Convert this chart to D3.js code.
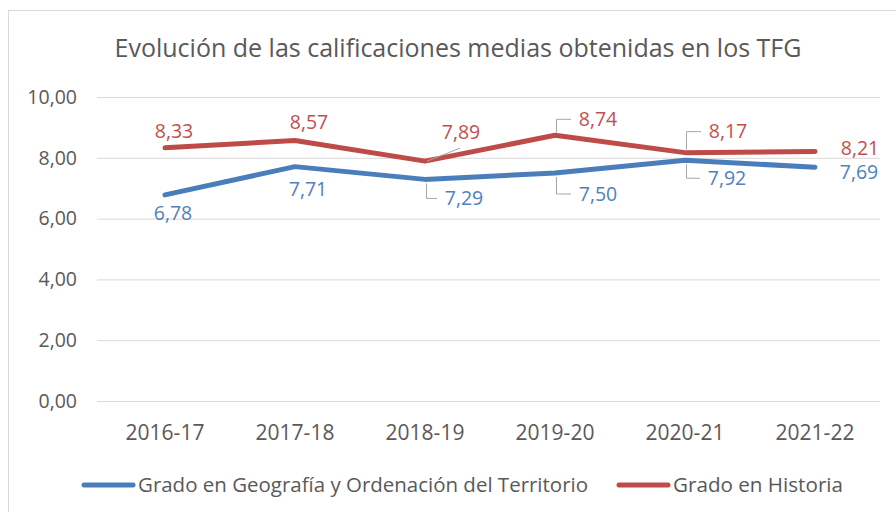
<!doctype html>
<html>
<head>
<meta charset="utf-8">
<script src="https://d3js.org/d3.v7.min.js"></script>
<style>
  body { margin: 0; background: #fff; }
  text { font-family: 'Open Sans', 'Noto Sans', sans-serif; }
</style>
</head>
<body>
<div id="chart"></div>
<script>
const years = ['2016-17', '2017-18', '2018-19', '2019-20', '2020-21', '2021-22'];
const geografia = [6.78, 7.71, 7.29, 7.50, 7.92, 7.69];
const historia = [8.33, 8.57, 7.89, 8.74, 8.17, 8.21];
const yTicks = [0, 2, 4, 6, 8, 10];
const seriesNames = ['Grado en Geografía y Ordenación del Territorio', 'Grado en Historia'];

// label placement relative to the point: dx, dy, leader type
const redLabels = [
  {dx: 9, dy: -17}, {dx: 14, dy: -18}, {dx: 36, dy: -29, lead: 'slash'},
  {dx: 43, dy: -16, lead: 'up'}, {dx: 43, dy: -21, lead: 'up'}, {dx: 45, dy: -3}
];
const blueLabels = [
  {dx: 8, dy: 18}, {dx: 13, dy: 23}, {dx: 39, dy: 19, lead: 'down'},
  {dx: 43, dy: 21, lead: 'down'}, {dx: 42, dy: 18, lead: 'down'}, {dx: 44, dy: 5}
];

const W = 896, H = 512;
const plotLeft = 100, plotRight = 880, plotTop = 97, plotBottom = 401;
const fmt = v => d3.format('.2f')(v).replace('.', ',');

const svg = d3.select('#chart').append('svg')
  .attr('width', W).attr('height', H);

svg.append('rect')
  .attr('x', 8.5).attr('y', 10.5)
  .attr('width', 900).attr('height', 520)
  .attr('fill', '#fff').attr('stroke', '#d9d9d9');

svg.append('text')
  .attr('x', 458).attr('y', 57)
  .attr('text-anchor', 'middle')
  .attr('font-size', 25)
  .attr('fill', '#595959')
  .text('Evolución de las calificaciones medias obtenidas en los TFG');

const x = d3.scaleBand().domain(years).range([plotLeft, plotRight]);
const y = d3.scaleLinear().domain([0, 10]).range([plotBottom, plotTop]);
const cx = d => x(d) + x.bandwidth() / 2;

// grid
svg.append('g')
  .attr('transform', `translate(${plotLeft - 3},0)`)
  .call(d3.axisLeft(y).tickValues(yTicks).tickSize(-(plotRight - plotLeft + 3)).tickFormat(fmt))
  .call(g => g.select('.domain').remove())
  .call(g => g.selectAll('.tick line').attr('stroke', '#d9d9d9'))
  .call(g => g.selectAll('.tick text')
    .attr('x', -20).attr('font-size', 19.5).attr('fill', '#595959')
    .style('font-family', "'Open Sans', sans-serif"));

svg.append('g')
  .attr('transform', `translate(0,${plotBottom})`)
  .call(d3.axisBottom(x).tickSize(0))
  .call(g => g.select('.domain').remove())
  .call(g => g.selectAll('.tick text')
    .attr('dy', 0).attr('y', 38.5).attr('font-size', 21).attr('fill', '#595959')
    .style('font-family', "'Open Sans', sans-serif"));

const series = [
  {values: geografia, color: '#4a7ebb', text: '#4f81bd', labels: blueLabels},
  {values: historia, color: '#be4b48', text: '#c0504d', labels: redLabels}
];

const line = d3.line().x((d, i) => cx(years[i])).y(d => y(d));

series.forEach(s => {
  svg.append('path')
    .datum(s.values)
    .attr('d', line)
    .attr('fill', 'none')
    .attr('stroke', s.color)
    .attr('stroke-width', 5)
    .attr('stroke-linecap', 'round')
    .attr('stroke-linejoin', 'round');
});

// data labels and leaders
series.forEach(s => {
  s.values.forEach((v, i) => {
    const px = cx(years[i]), py = y(v);
    const l = s.labels[i];
    const lx = px + l.dx, ly = py + l.dy;
    let d = null;
    if (l.lead === 'up') d = `M${px + 1.5},${py - 3}V${ly}H${lx - 27}`;
    else if (l.lead === 'down') d = `M${px + 1.5},${py + 4}V${ly}H${lx - 27}`;
    else if (l.lead === 'slash') d = `M${px + 2},${py}L${px + 35},${py - 13}`;
    if (d) {
      svg.append('path')
        .attr('d', d)
        .attr('fill', 'none').attr('stroke', '#a6a6a6').attr('stroke-width', 1);
    }
    svg.append('text')
      .attr('x', lx).attr('y', ly)
      .attr('dy', '0.35em')
      .attr('text-anchor', 'middle')
      .attr('font-size', 19.5)
      .attr('fill', s.text)
      .text(fmt(v));
  });
});

// legend
const legendX = [82, 617];
const legendW = [450, 170];
series.forEach((s, i) => {
  const g = svg.append('g').attr('transform', `translate(${legendX[i]},485)`);
  g.append('line')
    .attr('x1', 2).attr('x2', 51)
    .attr('stroke', s.color).attr('stroke-width', 5).attr('stroke-linecap', 'round');
  g.append('text')
    .attr('x', 56).attr('dy', '0.35em')
    .attr('font-size', 20.5).attr('fill', '#595959')
    .attr('textLength', legendW[i]).attr('lengthAdjust', 'spacingAndGlyphs')
    .text(seriesNames[i]);
});
</script>
</body>
</html>
